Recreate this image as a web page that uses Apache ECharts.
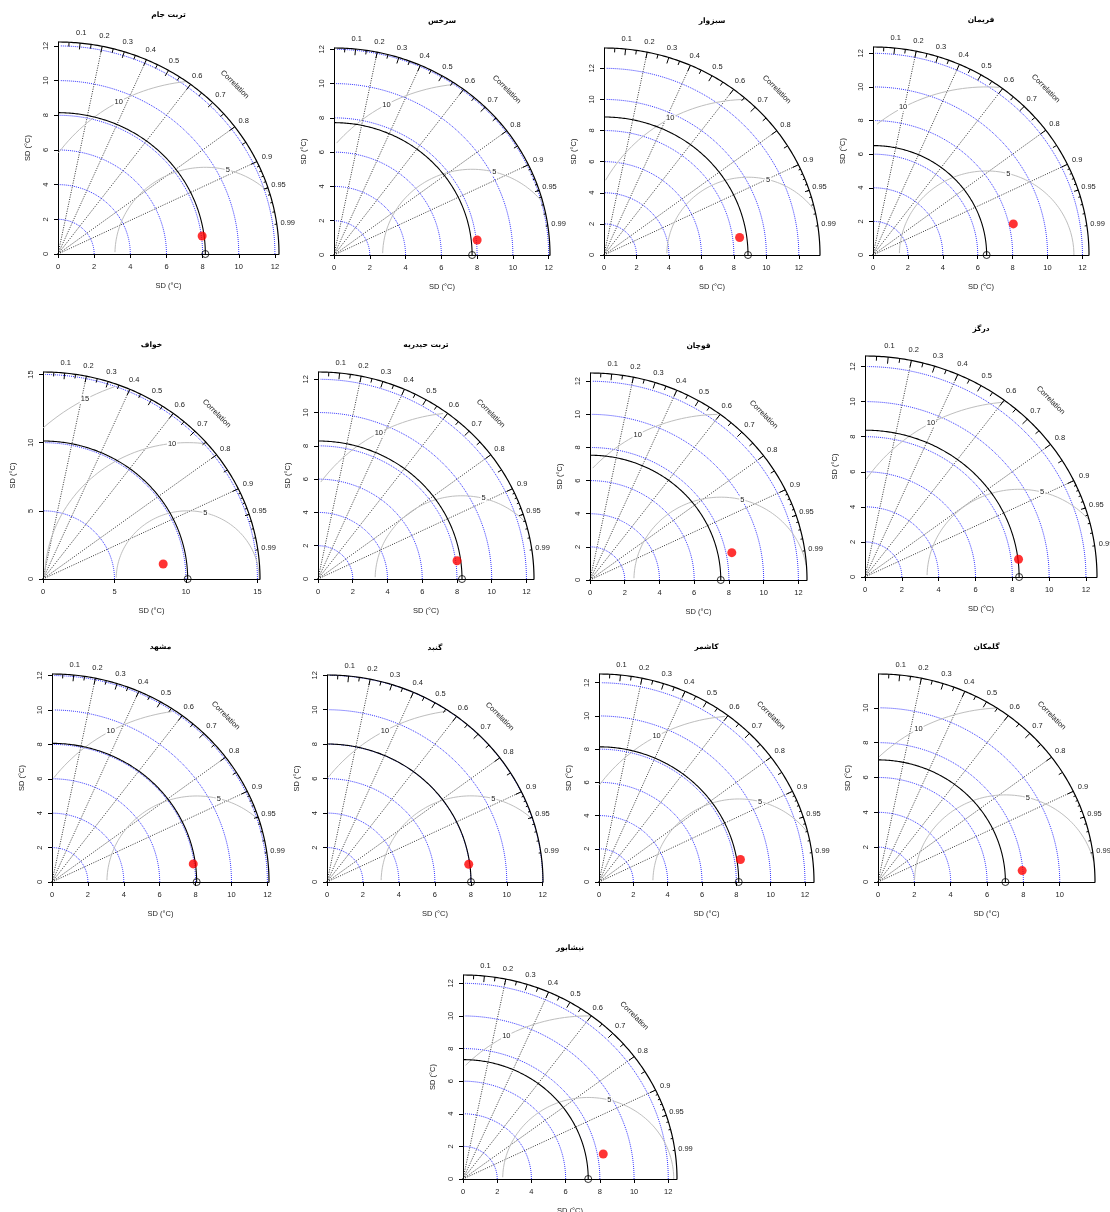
<!DOCTYPE html>
<html>
<head>
<meta charset="utf-8">
<script src="https://cdn.jsdelivr.net/npm/echarts@6/dist/echarts.min.js"></script>
<style>
html,body{margin:0;padding:0;background:#fff}
#chart{width:1110px;height:1212px}
</style>
</head>
<body>
<div id="chart"></div>
<script>
// Taylor diagrams: observed vs. simulated temperature, one diagram per station

const stations = ['تربت جام', 'سرخس', 'سبزوار', 'فریمان', 'خواف', 'تربت حیدریه', 'قوچان',
                  'درگز', 'مشهد', 'گنبد', 'کاشمر', 'گلمکان', 'نیشابور'];
// standard deviation of the observations (reference point), °C
const refSD = [8.15, 7.72, 8.87, 6.51, 10.12, 8.29, 7.53, 8.37, 8.06, 8.01, 8.14, 7.01, 7.32];
// standard deviation of the simulated series, °C
const modelSD = [8.04, 8.05, 8.43, 8.25, 8.48, 8.08, 8.33, 8.40, 7.94, 7.95, 8.35, 7.96, 8.34];
// correlation between simulated and observed series
const modelCorr = [0.9916, 0.9941, 0.9910, 0.9745, 0.9915, 0.9907, 0.9802, 0.9927, 0.9912, 0.9916, 0.9868, 0.9966, 0.9830];

// SD axis tick step of each diagram
const tickStep = [2, 2, 2, 2, 5, 2, 2, 2, 2, 2, 2, 2, 2];
// centred RMS difference contour levels
const rmsdLevels = [5, 10, 15];
// correlation rays drawn across the diagram
const gradCorr = [0.2, 0.4, 0.6, 0.8, 0.9];
// correlation ticks on the outer arc
const corrMajor = [0.1, 0.2, 0.3, 0.4, 0.5, 0.6, 0.7, 0.8, 0.9];
const corrMid = [0.05, 0.15, 0.25, 0.35, 0.45, 0.55, 0.65, 0.75, 0.85, 0.95];
const corrMinor = [0.91, 0.92, 0.93, 0.94, 0.95, 0.96, 0.97, 0.98, 0.99];
const corrLabels = [0.1, 0.2, 0.3, 0.4, 0.5, 0.6, 0.7, 0.8, 0.9, 0.95, 0.99];

// plot region of each diagram: left, bottom (x axis line), width, height in px
const layout = [
  [58, 254, 221, 212],
  [334, 255, 216, 207],
  [604, 255, 216, 207],
  [873, 255, 216, 208],
  [43, 579, 217, 207],
  [318, 579, 216, 207],
  [590, 580, 217, 207],
  [865, 577, 232, 221],
  [52, 882, 217, 208],
  [327, 882, 216, 207],
  [599, 882, 215, 208],
  [878, 882, 217, 208],
  [463, 1179, 214, 204]
];

const FONT = '"Liberation Sans", Arial, Helvetica, sans-serif';
const TXT = '#222';

function angleSeq(to, step) {
  const a = [];
  for (let k = 0; k * step <= to + 1e-9; k++) a.push(k * step);
  return a;
}

const chart = echarts.init(document.getElementById('chart'));
const grid = [], xAxis = [], yAxis = [], series = [], title = [];

stations.forEach((name, i) => {
  const [L, B, W, H] = layout[i];
  const sdr = refSD[i], sdf = modelSD[i], R = modelCorr[i];
  const maxsd = 1.5 * Math.max(sdr, sdf);
  const ticks = [];
  for (let t = 0; t <= maxsd + 1e-9; t += tickStep[i]) ticks.push(t);
  const levels = rmsdLevels.filter(g => g <= maxsd);

  grid.push({ left: L, top: B - H, width: W, height: H, containLabel: false, outerBoundsMode: 'none' });

  const axisBase = (isY) => ({
    type: 'value', gridIndex: i, min: 0, max: maxsd,
    splitLine: { show: false },
    axisLine: { show: true, onZero: false, lineStyle: { color: '#000', width: 1 } },
    axisTick: { show: true, customValues: ticks, length: 4, lineStyle: { color: '#000', width: 1 } },
    axisLabel: {
      show: true, customValues: ticks, formatter: v => String(v),
      fontSize: 7.5, color: TXT, fontFamily: FONT, margin: isY ? 8 : 9, rotate: isY ? 90 : 0
    },
    name: 'SD (°C)', nameLocation: 'middle', nameGap: isY ? 26 : 28, nameRotate: isY ? 90 : 0,
    nameMoveOverlap: false,
    nameTextStyle: { fontSize: 7.5, color: TXT, fontFamily: FONT }
  });
  xAxis.push(axisBase(false));
  yAxis.push(axisBase(true));

  title.push({
    text: name, left: L + W / 2, top: B - H - 31, textAlign: 'center', padding: 0,
    textStyle: { fontSize: 7.5, fontWeight: 'bold', color: '#000', fontFamily: '"DejaVu Sans", sans-serif' }
  });

  const base = { type: 'custom', xAxisIndex: i, yAxisIndex: i, silent: true, animation: false, clip: false };

  // correlation rays
  series.push(Object.assign({}, base, {
    z: 2,
    data: gradCorr.map(c => [c, 0]),
    renderItem: (p, api) => {
      const c = api.value(0);
      const a = api.coord([0, 0]);
      const b = api.coord([maxsd * c, maxsd * Math.sqrt(1 - c * c)]);
      return { type: 'line', shape: { x1: a[0], y1: a[1], x2: b[0], y2: b[1] },
               style: { stroke: '#000', lineWidth: 0.8, lineDash: [1, 1.4] } };
    }
  }));

  // standard deviation arcs
  series.push(Object.assign({}, base, {
    z: 3,
    data: ticks.filter(t => t > 0).map(t => [t, 0]),
    renderItem: (p, api) => {
      const r = api.value(0);
      const pts = angleSeq(Math.PI / 2, 0.03).map(a => api.coord([r * Math.cos(a), r * Math.sin(a)]));
      return { type: 'polyline', shape: { points: pts },
               style: { fill: 'none', stroke: '#2020ff', lineWidth: 0.9, lineDash: [1, 1] } };
    }
  }));

  // centred RMS difference contours around the reference point
  series.push(Object.assign({}, base, {
    z: 4,
    data: levels.map(g => [g, 0]),
    renderItem: (p, api) => {
      const g = api.value(0), j = p.dataIndex, n = levels.length;
      const ang = angleSeq(3.12, 0.03);
      const xs = ang.map(a => Math.cos(a) * g + sdr);
      const ys = ang.map(a => Math.sin(a) * g);
      let end = xs.findIndex(x => x < 0);
      end = end >= 0 ? end - 1 : xs.length - 1;
      let start = 0;
      xs.forEach((x, k) => { if (x * x + ys[k] * ys[k] > maxsd * maxsd) start = k + 1; });
      const pts = [];
      for (let k = start; k <= end; k++) pts.push(api.coord([xs[k], ys[k]]));
      const children = [{ type: 'polyline', shape: { points: pts },
                          style: { fill: 'none', stroke: '#bebebe', lineWidth: 1 } }];
      const lp = n > 1 ? 45 + 25 * j / (n - 1) : 45;
      const idx = Math.floor(lp) - 1;
      if (xs[idx] > 0) {
        const c = api.coord([xs[idx], ys[idx]]);
        children.push({ type: 'text', x: c[0], y: c[1],
          style: { text: String(g), align: 'center', verticalAlign: 'middle', fontSize: 7.5,
                   fill: TXT, fontFamily: FONT, backgroundColor: '#fff', padding: [0, 1] } });
      }
      return { type: 'group', children };
    }
  }));

  // outer correlation arc, its ticks and labels
  series.push(Object.assign({}, base, {
    z: 5,
    data: [[0, 0]],
    renderItem: (p, api) => {
      const ch = [];
      const arc = angleSeq(Math.PI / 2, 0.01).map(a => api.coord([maxsd * Math.cos(a), maxsd * Math.sin(a)]));
      ch.push({ type: 'polyline', shape: { points: arc }, style: { fill: 'none', stroke: '#000', lineWidth: 1.2 } });
      const tick = (c, f) => {
        const s = Math.sqrt(1 - c * c);
        const a = api.coord([maxsd * c, maxsd * s]);
        const b = api.coord([f * maxsd * c, f * maxsd * s]);
        ch.push({ type: 'line', shape: { x1: a[0], y1: a[1], x2: b[0], y2: b[1] },
                  style: { stroke: '#000', lineWidth: 1 } });
      };
      corrMajor.forEach(c => tick(c, 0.97));
      corrMid.forEach(c => tick(c, 0.98));
      corrMinor.forEach(c => tick(c, 0.99));
      corrLabels.forEach(c => {
        const q = api.coord([1.05 * maxsd * c, 1.05 * maxsd * Math.sqrt(1 - c * c)]);
        ch.push({ type: 'text', x: q[0], y: q[1],
          style: { text: String(c), align: 'center', verticalAlign: 'middle', fontSize: 7.5,
                   fill: TXT, fontFamily: FONT } });
      });
      const t = api.coord([0.8 * maxsd, 0.8 * maxsd]);
      ch.push({ type: 'text', x: t[0], y: t[1], rotation: -Math.PI / 4,
        style: { text: 'Correlation', align: 'center', verticalAlign: 'middle', fontSize: 7.5,
                 fill: TXT, fontFamily: FONT } });
      return { type: 'group', children: ch };
    }
  }));

  // reference standard deviation arc
  series.push(Object.assign({}, base, {
    z: 6,
    data: [[sdr, 0]],
    renderItem: (p, api) => {
      const r = api.value(0);
      const pts = angleSeq(Math.PI / 2, 0.01).map(a => api.coord([r * Math.cos(a), r * Math.sin(a)]));
      return { type: 'polyline', shape: { points: pts }, style: { fill: 'none', stroke: '#000', lineWidth: 1.1 } };
    }
  }));

  // reference (observed) point
  series.push({
    type: 'scatter', xAxisIndex: i, yAxisIndex: i, clip: false, silent: true, animation: false, z: 8,
    data: [[sdr, 0]], symbol: 'circle', symbolSize: 7,
    itemStyle: { color: 'rgba(0,0,0,0)', borderColor: '#000', borderWidth: 1 }
  });

  // simulated point
  series.push({
    type: 'scatter', xAxisIndex: i, yAxisIndex: i, clip: false, silent: true, animation: false, z: 9,
    data: [[sdf * R, sdf * Math.sqrt(1 - R * R)]], symbol: 'circle', symbolSize: 9,
    itemStyle: { color: '#ff0000', borderWidth: 0 }
  });
});

chart.setOption({
  backgroundColor: '#fff',
  animation: false,
  textStyle: { fontFamily: FONT },
  title, grid, xAxis, yAxis, series
});
</script>
</body>
</html>
